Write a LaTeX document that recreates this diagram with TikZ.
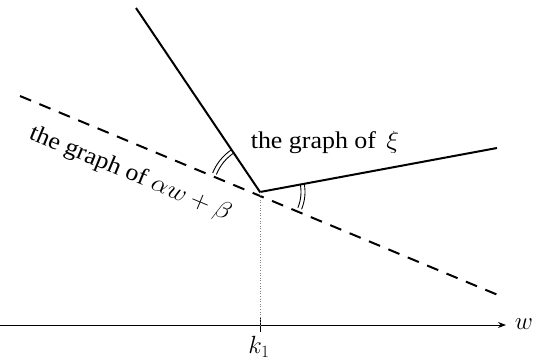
\documentclass[tikz,border=0pt]{standalone}
\usepackage{fontspec}
\setmainfont{Liberation Serif}
\usetikzlibrary{arrows.meta}
\begin{document}
\begin{tikzpicture}[x=1pt,y=-1pt,
  solidline/.style={line width=2pt},
  dashline/.style={line width=2pt,dash pattern=on 12pt off 9pt},
  anglearc/.style={line width=0.9pt},
  lbl/.style={font=\fontsize{24}{28}\selectfont,inner sep=0pt}]
\useasboundingbox (0,0) rectangle (538,362);
\coordinate (K) at (260,192);
\coordinate (U) at (136,8);
\coordinate (R) at (497,148);
\coordinate (DL) at (20,96);
\coordinate (DR) at (498,295);
\coordinate (A0) at (0,325);
\coordinate (A1) at (506,325);
\coordinate (T) at (260,325);
\coordinate (T0) at (260,318);
\coordinate (T1) at (260,332);
\draw[solidline] (U) -- (K) -- (R);
\draw[dashline] (DL) -- (DR);
\draw[line width=0.9pt,-{Stealth[length=8pt,width=6pt]}] (A0) -- (A1);
\draw[line width=1pt] (T0) -- (T1);
\draw[line width=0.6pt,dotted,gray] (K) -- (T);
\foreach \r in {47,51} {
  \draw[anglearc] ([shift={(123.4:\r pt)}]K) arc[start angle=123.4, end angle=158.2, radius=\r pt];
}
\foreach \r in {41,45} {
  \draw[anglearc] ([shift={(-22.5:\r pt)}]K) arc[start angle=-22.5, end angle=10.8, radius=\r pt];
}
\node[lbl] (xi) at (325,142) {\scalebox{1.08}[1]{the graph of\hspace{0.4em}$\xi$}};
\node[lbl,rotate=-22.5] (ab) at (130,174) {\scalebox{1.08}[1]{the graph of $\alpha w+\beta$}};
\node[lbl] (w) at (524,324) {$w$};
\node[lbl] (k1) at (259,347) {$k_1$};
\end{tikzpicture}
\end{document}
